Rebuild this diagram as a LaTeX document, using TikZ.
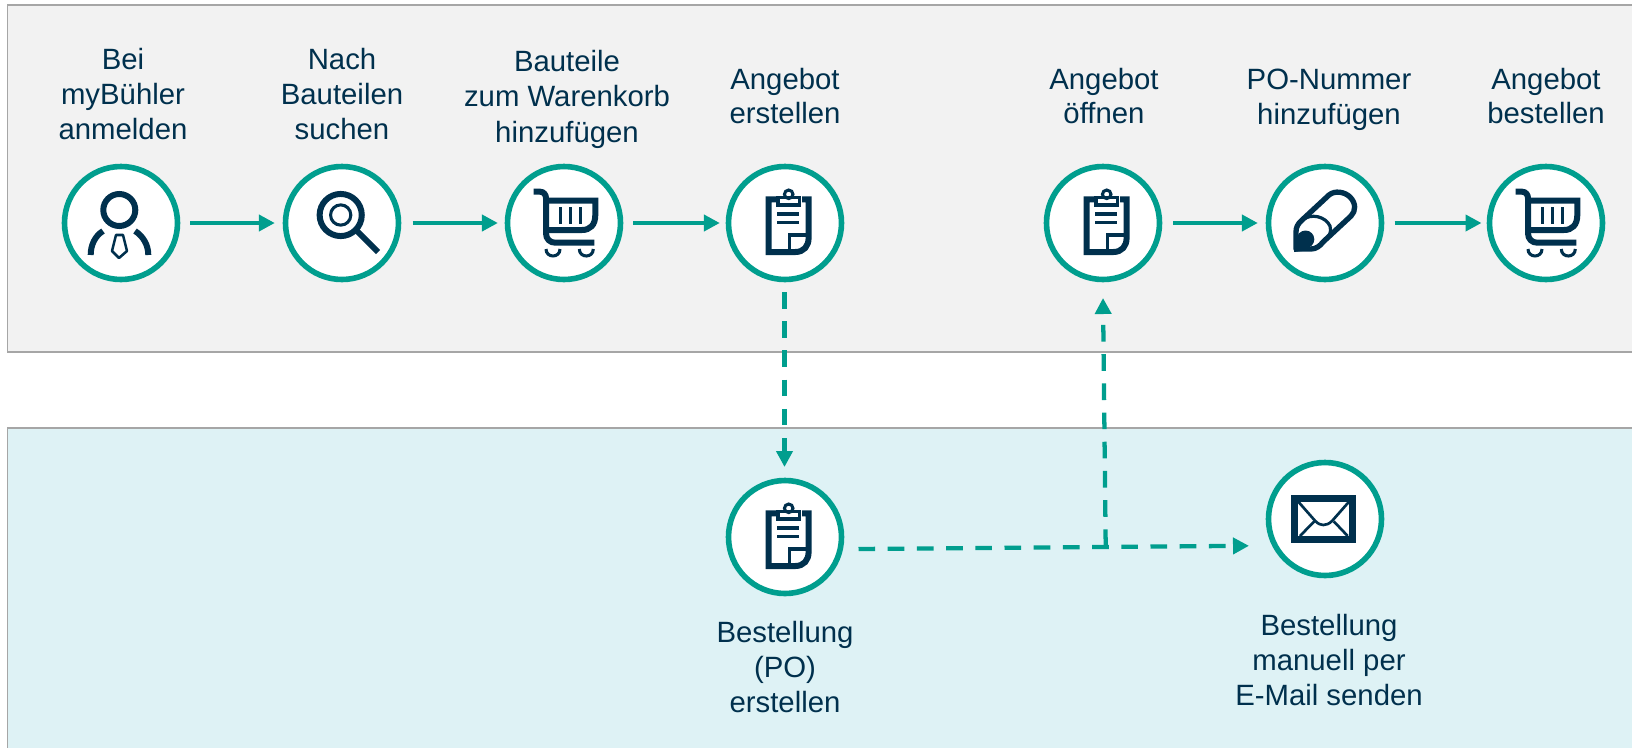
\documentclass[tikz,border=0pt]{standalone}
\usepackage{fontspec}
\setmainfont{Liberation Sans}
\usetikzlibrary{arrows.meta}
\definecolor{teal}{HTML}{009E8E}
\definecolor{navy}{HTML}{00304D}
\definecolor{graybg}{HTML}{F2F2F2}
\definecolor{grayline}{HTML}{A6A6A6}
\definecolor{bluebg}{HTML}{DEF2F5}
\tikzset{
  x=0.75pt,y=-0.75pt,
  band/.style={line width=1.4pt,draw=grayline},
  ring/.style={circle,draw=teal,fill=white,line width=4.2pt,minimum size=84.75pt,inner sep=0pt,outer sep=0pt},
  lbl/.style={align=center,text=navy,font=\fontsize{22pt}{26.2pt}\selectfont,inner sep=0pt},
  lblw/.style={lbl,font=\fontsize{22pt}{26.6pt}\selectfont},
  flow/.style={draw=teal,line width=3pt,-{Triangle[length=12pt,width=12pt]}},
  dflow/.style={draw=teal,line width=3.2pt,dash pattern=on 12.5pt off 9.4pt,-{Triangle[length=12pt,width=12pt]}},
  ic/.style={draw=navy,line width=4.5pt,line join=miter},
  icthin/.style={draw=navy,line width=2.3pt},
}
\newcommand{\iperson}[1]{\begin{scope}[shift={(#1)}]
  \draw[ic] (-1.7,-13) circle[radius=12pt];
  \draw[ic] (-18,8) .. controls (-26,13) and (-30.3,22) .. (-30.3,32);
  \draw[ic] (14,8) .. controls (22,13) and (27.3,22) .. (27.3,32);
  \draw[icthin,line width=1.9pt,line join=round] (-5,12) -- (2,12) -- (6,28) -- (-2,35) -- (-9,28) -- cycle;
\end{scope}}
\newcommand{\imag}[1]{\begin{scope}[shift={(#1)}]
  \draw[ic] (-1.3,-8) circle[radius=15.8pt];
  \draw[icthin] (-1.3,-8) circle[radius=7.6pt];
  \draw[ic] (14,7) -- (36,29);
\end{scope}}
\newcommand{\icart}[1]{\begin{scope}[shift={(#1)}]
  \draw[ic] (-30.3,-31.3) -- (-24,-31.3) .. controls (-20,-31.3) and (-18,-28) .. (-18,-24.7) -- (-18,10.3) .. controls (-18,16) and (-14,19.7) .. (-8.7,19.7) -- (30.3,19.7);
  \draw[ic] (-18,-22.3) -- (31.3,-22.3) -- (31.3,-8) .. controls (31.3,2) and (26,7) .. (18,7) -- (-18,7);
  \foreach \sx in {-3.3,6.3,16.3} \draw[icthin] (\sx,-15.7) -- (\sx,1);
  \draw[icthin] (-18,26) .. controls (-18,35.3) and (-4,35.3) .. (-4,26);
  \draw[icthin] (15.3,26) .. controls (15.3,35.3) and (29.3,35.3) .. (29.3,26);
\end{scope}}
\newcommand{\iclip}[1]{\begin{scope}[shift={(#1)}]
  \draw[ic] (-7,-23.7) -- (-16.5,-23.7) -- (-16.5,29) -- (10.3,29) .. controls (19,29) and (23.6,23) .. (23.6,15) -- (23.6,-23.7) -- (17,-23.7);
  \draw[icthin] (-7,-25.3) rectangle (14.3,-18);
  \draw[icthin] (3.7,-28.7) circle[radius=3.2pt];
  \draw[icthin] (-8,-9) -- (14.3,-9);
  \draw[icthin] (-8,-0.7) -- (14.3,-0.7);
  \draw[icthin,line width=2.6pt] (4.3,29) -- (4.3,12) -- (23.6,12);
\end{scope}}
\newcommand{\ipencil}[1]{\begin{scope}[shift={(#1)}]
  \draw[ic,line width=4pt,line join=round] (-29,26) -- (-29,9) .. controls (-29,4) and (-27,1) .. (-24,-2) -- (4,-28)
    .. controls (10,-33) and (20,-31) .. (25,-26) .. controls (31,-20) and (31,-12) .. (26,-7) -- (-2,19)
    .. controls (-5,23) and (-9,26) .. (-14,26) -- cycle;
  \draw[ic,line width=2.4pt] (-24,-2) .. controls (-14,-11) and (1,-6) .. (5,3) .. controls (7,9) and (4,15) .. (-2,19);
  \fill[navy] (-19.5,16.3) circle[radius=6.6pt];
  \fill[navy] (-31,29) -- (-31,14) -- (-15,27) -- cycle;
\end{scope}}
\newcommand{\imail}[1]{\begin{scope}[shift={(#1)}]
  \draw[ic,line width=4.9pt] (-30.4,-20.6) rectangle (27.5,20.4);
  \draw[icthin,line width=2pt] (-26.7,-17.3) -- (-10,1.7) .. controls (-7,5) and (-4,6) .. (-1.7,6) .. controls (1,6) and (4,5) .. (7.3,1.7) -- (24,-17.3);
  \draw[icthin,line width=2pt] (-25,17) -- (-10.7,2.3);
  \draw[icthin,line width=2pt] (22.7,17) -- (8.7,2.3);
\end{scope}}
\begin{document}
\begin{tikzpicture}
\useasboundingbox (0,0) rectangle (1632,747);
\fill[white] (0,0) rectangle (1632,747);
\draw[band,fill=graybg] (7.5,5) rectangle (1640,352);
\draw[band,fill=bluebg] (7.5,428) rectangle (1640,760);
% circles
\node[ring] (c1) at (121,223) {};
\node[ring] (c2) at (342,223) {};
\node[ring] (c3) at (564,223) {};
\node[ring] (c4) at (785,223) {};
\node[ring] (c5) at (1103,223) {};
\node[ring] (c6) at (1325,223) {};
\node[ring] (c7) at (1546,223) {};
\node[ring] (c8) at (785,537) {};
\node[ring] (c9) at (1325,519) {};
\iperson{121,223}
\imag{342,223}
\icart{564,223}
\iclip{785,223}
\iclip{1103,223}
\ipencil{1325,223}
\icart{1546,223}
\iclip{785,537}
\imail{1325,519}
% labels
\node[lbl] (t1) at (123,94) {Bei\\myBühler\\anmelden};
\node[lbl] (t2) at (342,94) {Nach\\Bauteilen\\suchen};
\node[lblw] (t3) at (567,99) {Bauteile\\zum Warenkorb\\hinzufügen};
\node[lbl] (t4) at (785,96) {Angebot\\erstellen};
\node[lbl] (t5) at (1104,96) {Angebot\\öffnen};
\node[lbl] (t6) at (1329,100) {PO-Nummer\\hinzufügen};
\node[lbl] (t7) at (1546,96) {Angebot\\bestellen};
\node[lblw] (t8) at (785,667) {Bestellung\\(PO)\\erstellen};
\node[lblw] (t9) at (1329,660) {Bestellung\\manuell per\\E-Mail senden};
% connectors
\draw[flow] ([xshift=9.5pt]c1.east) -- ([xshift=-8pt]c2.west);
\draw[flow] ([xshift=10.5pt]c2.east) -- ([xshift=-7.2pt]c3.west);
\draw[flow] ([xshift=9.7pt]c3.east) -- ([xshift=-6.5pt]c4.west);
\draw[flow] ([xshift=10.2pt]c5.east) -- ([xshift=-8pt]c6.west);
\draw[flow] ([xshift=9.8pt]c6.east) -- ([xshift=-6pt]c7.west);
\coordinate (j) at (1105.7,546);
\coordinate (q1) at (858.5,549);
\coordinate (q2) at (1249,545.8);
\coordinate (q3) at (1103,298);
\coordinate (p1) at (784.5,292);
\coordinate (p2) at (784.5,467);
\draw[dflow] (p1) -- (p2);
\draw[dflow] (q1) -- (q2);
\draw[dflow] (j) -- (q3);
\end{tikzpicture}
\end{document}
